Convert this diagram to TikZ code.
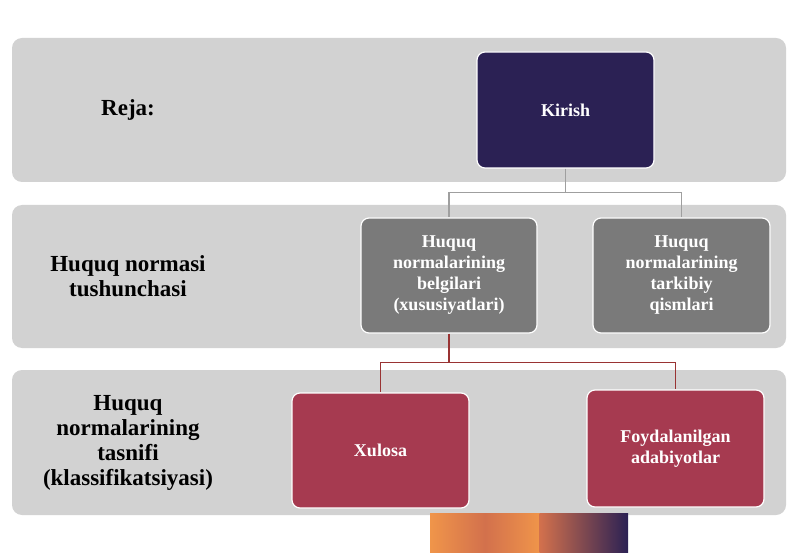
\documentclass[tikz,border=0pt]{standalone}
\usepackage{fontspec}
\setmainfont{Liberation Serif}
\begin{document}
\begin{tikzpicture}[x=1pt,y=-1pt,
 band/.style={fill=gray!35,draw=none,rounded corners=10pt},
 box/.style={draw=white,line width=1.2pt,rounded corners=8pt,text=white,font=\bfseries\fontsize{18}{21}\selectfont,align=center,inner sep=0pt},
 lab/.style={font=\bfseries\fontsize{23}{25}\selectfont,align=center,text=black},
 gl/.style={draw=gray!75,line width=1.2pt},
 rl/.style={draw=red!50!black!80,line width=1.2pt}]
\useasboundingbox (0,0) rectangle (800,553);
\fill[white] (0,0) rectangle (800,553);
\definecolor{navy}{HTML}{2B2154}
\definecolor{gbox}{HTML}{7A7A7A}
\definecolor{rbox}{HTML}{A63A50}
\definecolor{orng}{HTML}{F0954A}
\path[band] (12,38) rectangle (786,182);
\path[band] (12,205) rectangle (786,348);
\path[band] (12,370) rectangle (786,515);
\node[lab] (reja) at (128,110) {Reja:};
\node[lab] (l2) at (128,276) {Huquq normasi\\tushunchasi};
\node[lab] (l3) at (128,443) {Huquq\\normalarining\\tasnifi\\(klassifikatsiyasi)};
\node[box,fill=navy,minimum width=177pt,minimum height=116pt] (k) at (565.5,110) {Kirish};
\node[box,fill=gbox,minimum width=176pt,minimum height=115pt] (b) at (449,275.5) {Huquq\\normalarining\\belgilari\\(xususiyatlari)};
\node[box,fill=gbox,minimum width=177pt,minimum height=115pt] (t) at (681.5,275.5) {Huquq\\normalarining\\tarkibiy\\qismlari};
\node[box,fill=rbox,minimum width=177pt,minimum height=115pt] (x) at (380.5,450.5) {Xulosa};
\node[box,fill=rbox,minimum width=177pt,minimum height=117pt] (f) at (675.5,448.5) {Foydalanilgan\\adabiyotlar};
\draw[gl] (k.south) -- ++(0,24) -| (b.north);
\draw[gl] (k.south) ++(0,24) -| (t.north);
\draw[rl] (b.south) -- ++(0,29) -| (x.north);
\draw[rl] (b.south) ++(0,29) -| (f.north);
\shade[left color=orng,right color=orng,middle color=orng!60!rbox] (430,513) rectangle (540,553);
\shade[left color=orng!60!rbox,right color=navy] (539.5,513) rectangle (628,553);
\end{tikzpicture}
\end{document}
